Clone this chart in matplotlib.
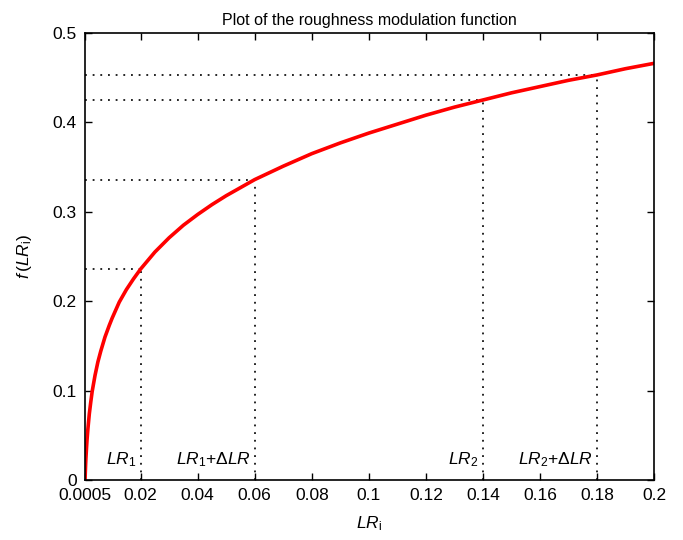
import matplotlib
matplotlib.use("Agg")
import matplotlib.pyplot as plt

plt.rcParams['font.family'] = ['Liberation Sans', 'DejaVu Sans']
plt.rcParams['mathtext.fontset'] = 'custom'
plt.rcParams['mathtext.rm'] = 'Liberation Sans'
plt.rcParams['mathtext.it'] = 'Liberation Sans:italic'
plt.rcParams['mathtext.bf'] = 'Liberation Sans:bold'

lr = [0.0005, 0.0006, 0.0007, 0.0008, 0.001, 0.0012, 0.0015, 0.002, 0.0025, 0.003,
      0.004, 0.005, 0.006, 0.0075, 0.009, 0.01, 0.0125, 0.015, 0.0175, 0.02,
      0.025, 0.03, 0.035, 0.04, 0.045, 0.05, 0.055, 0.06, 0.07, 0.08,
      0.09, 0.10, 0.11, 0.12, 0.13, 0.14, 0.15, 0.16, 0.17, 0.18, 0.19, 0.20]
f_lr = [0.0, 0.009, 0.017, 0.024, 0.035, 0.045, 0.057, 0.074, 0.087, 0.099,
        0.117, 0.132, 0.144, 0.160, 0.173, 0.181, 0.199, 0.213, 0.225, 0.236,
        0.255, 0.271, 0.285, 0.297, 0.308, 0.318, 0.327, 0.336, 0.351, 0.365,
        0.377, 0.388, 0.398, 0.408, 0.417, 0.425, 0.433, 0.440, 0.447, 0.453, 0.460, 0.466]

# Markierte Punkte
mark_x = [0.02, 0.06, 0.14, 0.18]
mark_y = [0.236, 0.336, 0.425, 0.453]
mark_txt = [r'$LR_1$', r'$LR_1$+$\Delta LR$', r'$LR_2$', r'$LR_2$+$\Delta LR$']

xticks = [0.0005, 0.02, 0.04, 0.06, 0.08, 0.1, 0.12, 0.14, 0.16, 0.18, 0.2]
xtick_labels = ['0.0005', '0.02', '0.04', '0.06', '0.08', '0.1', '0.12', '0.14', '0.16', '0.18', '0.2']
yticks = [0, 0.1, 0.2, 0.3, 0.4, 0.5]
ytick_labels = ['0', '0.1', '0.2', '0.3', '0.4', '0.5']

fig = plt.figure(figsize=(6.83, 5.40), dpi=100)
ax = fig.add_axes([0.1245, 0.111, 0.833, 0.828])

for mx, my, t in zip(mark_x, mark_y, mark_txt):
    ax.plot([0.0005, mx], [my, my], color='black', lw=1.2, linestyle=(0, (1.1, 3.5)))
    ax.plot([mx, mx], [0, my], color='black', lw=1.2, linestyle=(0, (1.1, 3.5)))
    ax.text(mx - 0.0015, 0.012, t, ha='right', va='bottom', fontsize=12.5)

ax.plot(lr, f_lr, color='red', lw=2.6)

ax.set_xlim(0.0005, 0.2)
ax.set_ylim(0, 0.5)
ax.set_xticks(xticks)
ax.set_xticklabels(xtick_labels)
ax.set_yticks(yticks)
ax.set_yticklabels(ytick_labels)
ax.tick_params(direction='in', top=True, right=True, labelsize=12.5, length=5, width=1, pad=6)
for s in ax.spines.values():
    s.set_linewidth(1.2)

ax.set_title('Plot of the roughness modulation function', fontsize=11.5, pad=6)
ax.set_xlabel(r'$LR_\mathrm{i}$', fontsize=12.5, labelpad=8)
ax.set_ylabel(r'$f\,(LR_\mathrm{i})$', fontsize=12.5, labelpad=13)

fig.savefig('out.png', dpi=100)
